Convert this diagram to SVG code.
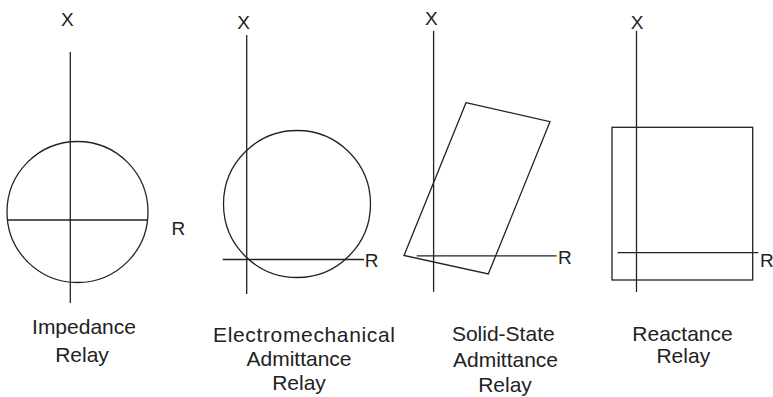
<svg xmlns="http://www.w3.org/2000/svg" width="773" height="397" viewBox="0 0 773 397">
<style>
.ln{stroke:#222;stroke-width:1.3;fill:none}
.ax{font-family:"Liberation Sans",Arial,sans-serif;font-size:19px;fill:#222}
.lb{font-family:"Liberation Sans",Arial,sans-serif;font-size:21px;fill:#222;text-anchor:middle}
</style>
<rect width="773" height="397" fill="#fff"/>
<g id="impedance">
<circle class="ln" cx="77.5" cy="212" r="70.5"/>
<line class="ln" x1="70.3" y1="52" x2="70.3" y2="303"/>
<line class="ln" x1="7" y1="220" x2="148" y2="220"/>
<text class="ax" x="61" y="26">X</text>
<text class="ax" x="171.5" y="235">R</text>
<text class="lb" x="84" y="334">Impedance</text>
<text class="lb" x="82" y="361.5">Relay</text>
</g>
<g id="electromechanical">
<circle class="ln" cx="297" cy="204" r="73.5"/>
<line class="ln" x1="246.7" y1="35" x2="246.7" y2="294"/>
<line class="ln" x1="222.7" y1="259.5" x2="364" y2="259.5"/>
<text class="ax" x="237.3" y="29.3">X</text>
<text class="ax" x="364.8" y="267">R</text>
<text class="lb" x="304" y="341.7" textLength="182" lengthAdjust="spacing">Electromechanical</text>
<text class="lb" x="299" y="365.8">Admittance</text>
<text class="lb" x="299" y="390">Relay</text>
</g>
<g id="solid-state">
<polygon class="ln" points="466,102.7 550,121.7 488.3,274 404,255.5"/>
<line class="ln" x1="433.6" y1="30.7" x2="433.6" y2="291.7"/>
<line class="ln" x1="416.7" y1="255.8" x2="556.7" y2="255.8"/>
<text class="ax" x="425" y="25">X</text>
<text class="ax" x="558" y="264">R</text>
<text class="lb" x="503.3" y="340.7">Solid-State</text>
<text class="lb" x="505.5" y="367">Admittance</text>
<text class="lb" x="505" y="392">Relay</text>
</g>
<g id="reactance">
<rect class="ln" x="612" y="127.3" width="140.7" height="152.7"/>
<line class="ln" x1="636.5" y1="30.7" x2="636.5" y2="292"/>
<line class="ln" x1="617.5" y1="252.7" x2="758.3" y2="252.7"/>
<text class="ax" x="630.7" y="29.3">X</text>
<text class="ax" x="760" y="267">R</text>
<text class="lb" x="682.5" y="341">Reactance</text>
<text class="lb" x="683.3" y="363.3">Relay</text>
</g>
</svg>
